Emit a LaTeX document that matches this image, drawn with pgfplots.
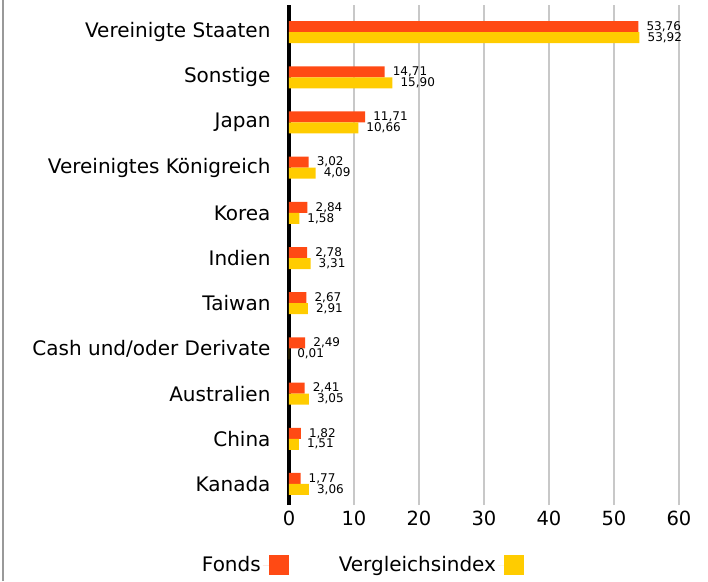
\documentclass[border=0pt]{standalone}
\usepackage{pgfplots}
\pgfplotsset{compat=1.18}
\usepackage{fontspec}
\setmainfont{DejaVu Sans}
\definecolor{fonds}{HTML}{FF4A14}
\definecolor{vgl}{HTML}{FFCC00}
\definecolor{gridg}{HTML}{C8C8C8}
\begin{document}
\begin{tikzpicture}
\path[use as bounding box] (-289pt,-76pt) rectangle (419pt,505pt);
\draw[color=gray!80, line width=2pt] (-286pt,-76pt) -- (-286pt,505pt);
\begin{axis}[
  at={(0pt,0pt)}, anchor=south west,
  scale only axis, width=401pt, height=500pt,
  xbar, bar width=11pt,
  xmin=0, xmax=61.7, ymin=-0.465, ymax=10.6,
  xtick={0,10,20,30,40,50,60},
  ytick={0,...,10},
  yticklabels={Kanada,China,Australien,Cash und/oder Derivate,Taiwan,Indien,Korea,Vereinigtes Königreich,Japan,Sonstige,Vereinigte Staaten},
  axis line style={draw=none},
  major tick length=0pt,
  xmajorgrids, grid style={gridg, line width=2pt},
  extra x ticks={0}, extra x tick labels={},
  extra x tick style={grid style={black, line width=4pt}},
  /pgf/number format/assume math mode=true,
  tick label style={font=\fontsize{19.5}{22}\selectfont},
  yticklabel style={font=\fontsize{20}{22}\selectfont, xshift=-15pt},
  xticklabel style={yshift=-2pt},
  nodes near coords,
  nodes near coords style={font=\fontsize{12}{12}\selectfont, anchor=west, inner sep=0pt, xshift=8pt,
    /pgf/number format/.cd, fixed, fixed zerofill, precision=2, use comma, assume math mode=true},
  legend columns=2,
  legend plot pos=right,
  legend style={at={(0.182,-0.12)}, anchor=center, draw=none, fill=none,
    font=\fontsize{20}{22}\selectfont, /tikz/every even column/.append style={column sep=48pt}},
  legend image code/.code={\path (0pt,0pt) -- (6pt,0pt); \fill[#1] (6pt,-10pt) rectangle (26pt,10pt);},
]
\addplot[draw=none, fill=fonds, bar shift=5.5pt] coordinates {
(1.77,0) (1.82,1) (2.41,2) (2.49,3) (2.67,4) (2.78,5) (2.84,6) (3.02,7) (11.71,8) (14.71,9) (53.76,10)};
\addplot[draw=none, fill=vgl, bar shift=-5.5pt] coordinates {
(3.06,0) (1.51,1) (3.05,2) (0.01,3) (2.91,4) (3.31,5) (1.58,6) (4.09,7) (10.66,8) (15.90,9) (53.92,10)};
\legend{Fonds, Vergleichsindex}
\end{axis}
\end{tikzpicture}
\end{document}
